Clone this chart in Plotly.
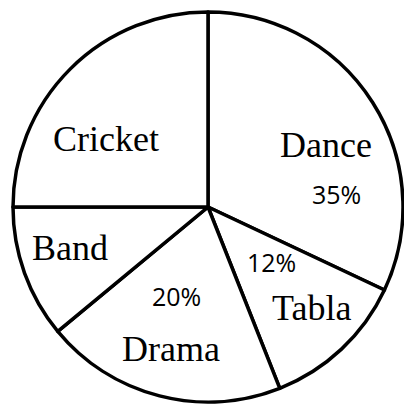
import plotly.graph_objects as go

categories = ["Dance", "Tabla", "Drama", "Band", "Cricket"]
values = [32, 12, 20, 11, 25]
# Printed percentage labels as they appear in the chart
pct_labels = {"Dance": "35%", "Tabla": "12%", "Drama": "20%"}

W, H = 404, 407

fig = go.Figure(go.Pie(
    labels=categories,
    values=values,
    sort=False,
    direction="clockwise",
    rotation=0,
    textinfo="none",
    hoverinfo="none",
    showlegend=False,
    marker=dict(colors=["white"] * len(categories),
                line=dict(color="black", width=3.5)),
    domain=dict(x=[(208 - 195) / W, (208 + 195) / W],
                y=[(200 - 195) / H, (200 + 195) / H]),
))

# label positions in pixels (x from left, y from top)
name_pos = {"Cricket": (106, 139), "Dance": (326, 145), "Band": (70, 248),
            "Tabla": (311, 308), "Drama": (171, 349)}
pct_pos = {"Dance": (336, 194), "Tabla": (271, 262), "Drama": (176, 296)}

anns = []
for name in categories:
    x, y = name_pos[name]
    anns.append(dict(x=x / W, y=1 - y / H, xref="paper", yref="paper",
                     text=name, showarrow=False,
                     font=dict(family="Liberation Serif", size=36, color="black"),
                     xanchor="center", yanchor="middle"))
for name, t in pct_labels.items():
    x, y = pct_pos[name]
    anns.append(dict(x=x / W, y=1 - y / H, xref="paper", yref="paper",
                     text=t, showarrow=False,
                     font=dict(family="Open Sans", size=25, color="black"),
                     xanchor="center", yanchor="middle"))

fig.update_layout(width=W, height=H, margin=dict(l=0, r=0, t=0, b=0),
                  paper_bgcolor="white", plot_bgcolor="white",
                  annotations=anns)

fig.write_html("out.html")
